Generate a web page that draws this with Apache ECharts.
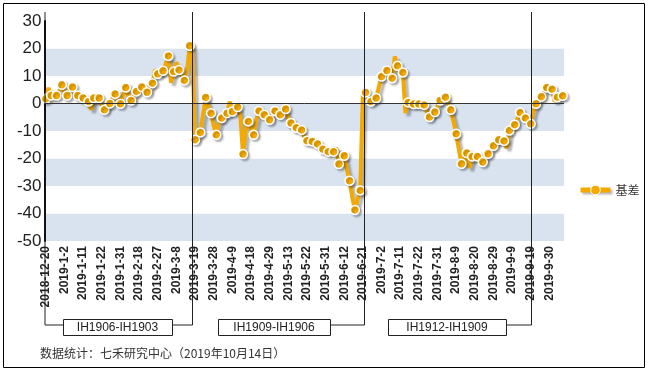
<!DOCTYPE html>
<html>
<head>
<meta charset="utf-8">
<script src="https://cdn.jsdelivr.net/npm/echarts@6/dist/echarts.min.js"></script>
<style>
html,body{margin:0;padding:0;background:#fff;}
#chart{width:650px;height:371px;}
</style>
</head>
<body>
<div id="chart"></div>
<script>
// ---- data ----
const dates = [
'2018-12-20','2018-12-21','2018-12-24','2018-12-25','2018-12-26','2018-12-27','2018-12-28',
'2019-1-2','2019-1-3','2019-1-4','2019-1-7','2019-1-8','2019-1-9','2019-1-10','2019-1-11','2019-1-14','2019-1-15','2019-1-16','2019-1-17','2019-1-18','2019-1-21','2019-1-22','2019-1-23','2019-1-24','2019-1-25','2019-1-28','2019-1-29','2019-1-30','2019-1-31',
'2019-2-1','2019-2-11','2019-2-12','2019-2-13','2019-2-14','2019-2-15','2019-2-18','2019-2-19','2019-2-20','2019-2-21','2019-2-22','2019-2-25','2019-2-26','2019-2-27','2019-2-28',
'2019-3-1','2019-3-4','2019-3-5','2019-3-6','2019-3-7','2019-3-8','2019-3-11','2019-3-12','2019-3-13','2019-3-14','2019-3-15','2019-3-18','2019-3-19','2019-3-20','2019-3-21','2019-3-22','2019-3-25','2019-3-26','2019-3-27','2019-3-28','2019-3-29',
'2019-4-1','2019-4-2','2019-4-3','2019-4-4','2019-4-8','2019-4-9','2019-4-10','2019-4-11','2019-4-12','2019-4-15','2019-4-16','2019-4-17','2019-4-18','2019-4-19','2019-4-22','2019-4-23','2019-4-24','2019-4-25','2019-4-26','2019-4-29','2019-4-30',
'2019-5-6','2019-5-7','2019-5-8','2019-5-9','2019-5-10','2019-5-13','2019-5-14','2019-5-15','2019-5-16','2019-5-17','2019-5-20','2019-5-21','2019-5-22','2019-5-23','2019-5-24','2019-5-27','2019-5-28','2019-5-29','2019-5-30','2019-5-31',
'2019-6-3','2019-6-4','2019-6-5','2019-6-6','2019-6-10','2019-6-11','2019-6-12','2019-6-13','2019-6-14','2019-6-17','2019-6-18','2019-6-19','2019-6-20','2019-6-21','2019-6-24','2019-6-25','2019-6-26','2019-6-27','2019-6-28',
'2019-7-1','2019-7-2','2019-7-3','2019-7-4','2019-7-5','2019-7-8','2019-7-9','2019-7-10','2019-7-11','2019-7-12','2019-7-15','2019-7-16','2019-7-17','2019-7-18','2019-7-19','2019-7-22','2019-7-23','2019-7-24','2019-7-25','2019-7-26','2019-7-29','2019-7-30','2019-7-31',
'2019-8-1','2019-8-2','2019-8-5','2019-8-6','2019-8-7','2019-8-8','2019-8-9','2019-8-12','2019-8-13','2019-8-14','2019-8-15','2019-8-16','2019-8-19','2019-8-20','2019-8-21','2019-8-22','2019-8-23','2019-8-26','2019-8-27','2019-8-28','2019-8-29','2019-8-30',
'2019-9-2','2019-9-3','2019-9-4','2019-9-5','2019-9-6','2019-9-9','2019-9-10','2019-9-11','2019-9-12','2019-9-16','2019-9-17','2019-9-18','2019-9-19','2019-9-20','2019-9-23','2019-9-24','2019-9-25','2019-9-26','2019-9-27','2019-9-30',
'2019-10-8','2019-10-9','2019-10-10','2019-10-11','2019-10-14'
];
// IH1906-IH1903 period
const basisSeg1 = [
1.7,5.7,2.9,3.8,2.9,4.5,6.8,4.2,2.9,5.2,6.0,4.0,2.9,2.4,2.0,1.2,0.7,-2.3,2.0,1.5,
2.0,-0.5,-2.3,-1.0,0.0,2.0,3.5,1.5,-0.1,3.0,5.8,3.0,1.1,2.8,4.4,5.5,6.0,5.0,4.1,5.5,
7.4,12.3,10.8,11.0,11.9,14.5,17.3,7.5,11.6,15.0,12.2,10.0,8.4,12.0,21.0,20.0
];
// IH1909-IH1906 period
const basisSeg2 = [
-13.2,-12.0,-10.5,-4.0,2.2,-1.0,-3.5,-8.0,-11.4,-7.0,-5.3,-4.0,-3.5,0.7,-2.9,-2.0,-1.3,-4.5,-18.4,-10.0,
-6.5,-9.0,-11.4,-6.0,-2.7,-3.5,-4.1,-5.0,-5.9,-4.0,-2.7,-3.2,-4.1,-3.0,-2.0,-5.5,-7.1,-8.0,-8.8,-9.3,
-9.6,-12.0,-13.5,-13.6,-13.8,-14.2,-14.7,-15.8,-16.6,-17.2,-17.5,-17.0,-17.5,-16.0,-22.0,-20.5,-19.0,-24.0,-28.1,-34.0,
-38.7,-35.0,-31.6
];
// IH1912-IH1909 period
const basisSeg3 = [
3.5,4.0,1.5,0.7,1.0,2.0,6.0,9.8,11.0,12.0,10.5,9.2,17.1,13.7,12.5,11.3,-3.5,0.4,0.0,-0.2,
-0.3,-0.2,-0.4,-0.5,-3.0,-4.9,-4.0,-3.1,-1.0,1.1,1.8,2.3,0.5,-2.3,-6.5,-11.0,-16.5,-21.9,-20.0,-18.0,
-23.5,-19.3,-19.5,-19.3,-20.0,-21.3,-19.5,-18.3,-17.0,-15.4,-14.0,-13.2,-13.4,-13.6,-16.2,-9.8,-8.5,-7.7,-5.5,-3.3,
-4.5,-5.3,-6.0,-7.4
];
// IH1912-IH1909 after 9-19 rollover
const basisSeg4 = [-3.0,-0.1,1.5,2.5,4.0,5.8,5.5,5.2,0.7,2.3,2.5,2.8];
const basis = basisSeg1.concat(basisSeg2, basisSeg3, basisSeg4);

const seriesName = '基差';
const yMin = -50, yMax = 30, yStep = 10;
const rolloverDates = ['2019-3-18', '2019-6-21', '2019-9-19'];
const contractLabels = ['IH1906-IH1903', 'IH1909-IH1906', 'IH1912-IH1909'];
const footnote = '数据统计：七禾研究中心（2019年10月14日）';

// ---- chart ----
const chart = echarts.init(document.getElementById('chart'), null, {renderer: 'canvas'});
const FONT = '"Liberation Sans", Arial, sans-serif';
const orange = '#f4a900';

chart.setOption({
  animation: false,
  backgroundColor: '#ffffff',
  grid: {left: 44.5, right: 86, top: 21, bottom: 130, containLabel: false},
  legend: {
    data: [seriesName],
    left: 573, top: 179,
    itemWidth: 30, itemHeight: 12,
    itemGap: 6,
    lineStyle: {width: 5, color: orange, shadowColor: 'rgba(0,0,0,0.28)', shadowBlur: 2, shadowOffsetX: 2, shadowOffsetY: 2},
    itemStyle: {color: orange, borderColor: '#fff', borderWidth: 1},
    textStyle: {fontSize: 12, color: '#333', fontFamily: '"Noto Sans CJK SC", sans-serif'}
  },
  xAxis: {
    type: 'category',
    data: dates,
    boundaryGap: true,
    axisLine: {show: false, onZero: false},
    axisTick: {show: false},
    axisLabel: {
      interval: 6, rotate: 90, margin: 5,
      fontSize: 12, fontWeight: 'bold', color: '#222', fontFamily: FONT
    },
    splitLine: {show: false}
  },
  yAxis: {
    type: 'value',
    min: yMin, max: yMax, interval: yStep,
    axisLine: {show: true, lineStyle: {color: '#000', width: 2}},
    axisTick: {show: false},
    axisLabel: {fontSize: 17, color: '#222', margin: 3, fontFamily: FONT},
    splitLine: {show: false},
    splitArea: {show: true, areaStyle: {color: ['#d9e3f0', '#ffffff']}}
  },
  series: [
    {
      type: 'line',
      data: [],
      silent: true,
      z: 1,
      markLine: {
        silent: true, symbol: 'none',
        label: {show: false},
        lineStyle: {color: '#333', width: 1, type: 'solid'},
        data: [{yAxis: 0}]
      }
    },
    {
      name: seriesName,
      type: 'line',
      data: basis,
      z: 3,
      showAllSymbol: true,
      symbol: 'circle',
      symbolSize: function (v, p) { return p.dataIndex % 2 === 0 ? 9 : 0; },
      lineStyle: {color: orange, width: 4, shadowColor: 'rgba(0,0,0,0.28)', shadowBlur: 2, shadowOffsetX: 3, shadowOffsetY: 3},
      itemStyle: {color: orange, borderColor: '#ffffff', borderWidth: 1.5, shadowColor: 'rgba(0,0,0,0.25)', shadowBlur: 2, shadowOffsetX: 2, shadowOffsetY: 2}
    }
  ]
});

// ---- annotations (contract periods) ----
function xAt(dateStr, frac) {
  const i = dates.indexOf(dateStr);
  const a = chart.convertToPixel({xAxisIndex: 0}, i);
  const b = chart.convertToPixel({xAxisIndex: 0}, i + 1);
  return a + (b - a) * frac;
}
const lineTop = 12, bracketY = 325, boxTop = 319, boxH = 16;
const lineXs = [xAt(rolloverDates[0], -0.3), xAt(rolloverDates[1], 0.6), xAt(rolloverDates[2], 0.2)];
const leftX = 45;
const boxes = [[63, 172], [218, 330], [388, 506]];
const stroke = {stroke: '#222', lineWidth: 1};
const g = [];
// outer frame
g.push({type: 'rect', shape: {x: 3.5, y: 3.5, width: 641, height: 364}, style: {fill: null, stroke: '#000', lineWidth: 1}, silent: true, z: 10});
// left bracket line
g.push({type: 'polyline', shape: {points: [[leftX, lineTop], [leftX, bracketY], [boxes[0][0], bracketY]]}, style: Object.assign({fill: null}, stroke), silent: true, z: 10});
lineXs.forEach(function (x, k) {
  const xx = Math.round(x) + 0.5;
  g.push({type: 'polyline', shape: {points: [[xx, lineTop], [xx, bracketY], [boxes[k][1], bracketY]]}, style: Object.assign({fill: null}, stroke), silent: true, z: 10});
});
boxes.forEach(function (bx, k) {
  g.push({type: 'rect', shape: {x: bx[0] + 0.5, y: boxTop + 0.5, width: bx[1] - bx[0], height: boxH}, style: {fill: '#fff', stroke: '#222', lineWidth: 1}, silent: true, z: 11});
  g.push({type: 'text', x: (bx[0] + bx[1]) / 2, y: boxTop + boxH / 2 + 1, style: {text: contractLabels[k], fill: '#222', font: '12px ' + FONT, textAlign: 'center', textVerticalAlign: 'middle'}, silent: true, z: 12});
});
g.push({type: 'text', x: 40, y: 353, style: {text: footnote, fill: '#333', font: '12px "Noto Sans CJK SC", ' + FONT, textVerticalAlign: 'middle'}, silent: true, z: 12});
chart.setOption({graphic: g});
</script>
</body>
</html>
